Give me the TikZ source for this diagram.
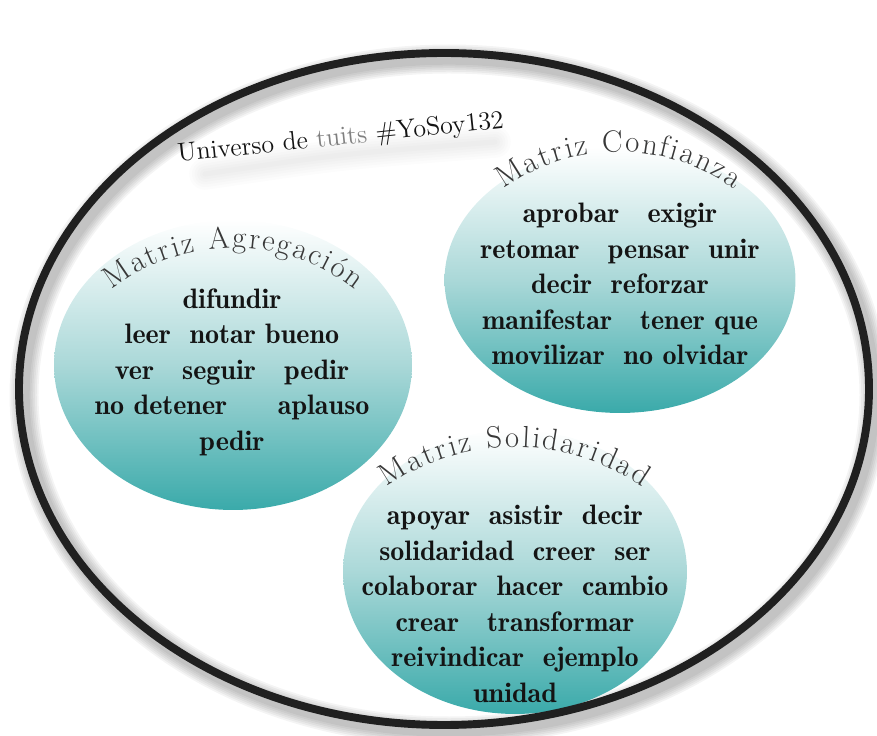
\documentclass[tikz,border=0pt]{standalone}
\usepackage{tikz}
\usetikzlibrary{shapes.geometric,decorations.text}
\newlength{\myringwidth}
\setlength{\myringwidth}{4.5pt}
\definecolor{tealbot}{RGB}{58,170,170}
\definecolor{tealmid}{RGB}{170,216,216}
\definecolor{ringdark}{RGB}{32,32,32}
\definecolor{titlegray}{RGB}{56,56,56}
\definecolor{wordblack}{RGB}{20,20,20}

\begin{document}
\begin{tikzpicture}[%
        x=0.02cm,y=-0.02cm,%
        bubble/.style={%
            ellipse,inner sep=0pt,outer sep=0pt,%
            top color=white,bottom color=tealbot,middle color=tealmid,%
            },
        words/.style={%
            align=center,text=wordblack,inner sep=0pt,%
            font=\fontsize{16}{20.2}\fontseries{b}\selectfont,%
            },
        universe/.style={%
            anchor=base west,inner sep=0pt,text=wordblack,%
            font=\fontsize{14.8}{16}\selectfont,%
            },
        arctitle/.style={%
            decorate,%
            decoration={text along path,text align={fit to path},text color=titlegray,%
                text={|\fontsize{17.5}{18}\selectfont|#1}},%
            },
        ]
        \useasboundingbox (0,0) rectangle (877,736);

        \foreach \k in {1,...,6}
            \draw[black,opacity=0.045,line width=\myringwidth+\k*2pt] (449,395) ellipse [x radius=425,y radius=336];

        \foreach \k in {3,6,...,18}
            \draw[black,opacity=0.012,line width=\k pt,line cap=round] (205,174) .. controls (340,154) .. (495,142);

        \node[universe,rotate=6] (universo) at (178,162) {Universo de \textcolor{gray}{tuits} \#YoSoy132};

        \node[bubble,minimum width=7.16cm,minimum height=5.8cm] (agr) at (233,365) {};
        \node[bubble,minimum width=7.02cm,minimum height=5.32cm] (conf) at (620,280) {};
        \node[bubble,minimum width=6.88cm,minimum height=5.68cm] (sol) at (515,572) {};

        \path[arctitle={Matriz Agregación},shift={(233.5,445)}]
            (-128:197) arc [start angle=-128,end angle=-52,radius=197];
        \path[arctitle={Matriz Confianza},shift={(619,349)}]
            (-125.7:197) arc [start angle=-125.7,end angle=-54.3,radius=197];
        \path[arctitle={Matriz Solidaridad},shift={(514.5,670)}]
            (-124.9:223) arc [start angle=-124.9,end angle=-55.1,radius=223];

        \node[words] (agrtxt) at (232,372) {%
            difundir\\
            leer~ notar bueno\\
            ver~~ seguir~~ pedir\\
            no detener\hspace{1.8em}aplauso\\
            pedir};
        \node[words] (conftxt) at (620,284) {%
            aprobar~~ exigir\\
            retomar~~ pensar~ unir\\
            decir~ reforzar\\
            manifestar~~ tener que\\
            movilizar~ no olvidar};
        \node[words] (soltxt) at (515,604) {%
            apoyar~ asistir~ decir\\
            solidaridad~ creer~ ser\\
            colaborar~ hacer~ cambio\\
            crear~~ transformar\\
            reivindicar~ ejemplo\\
            unidad};

        \draw[ringdark,line width=\myringwidth] (444,389) ellipse [x radius=425,y radius=336];
    \end{tikzpicture}
\end{document}
